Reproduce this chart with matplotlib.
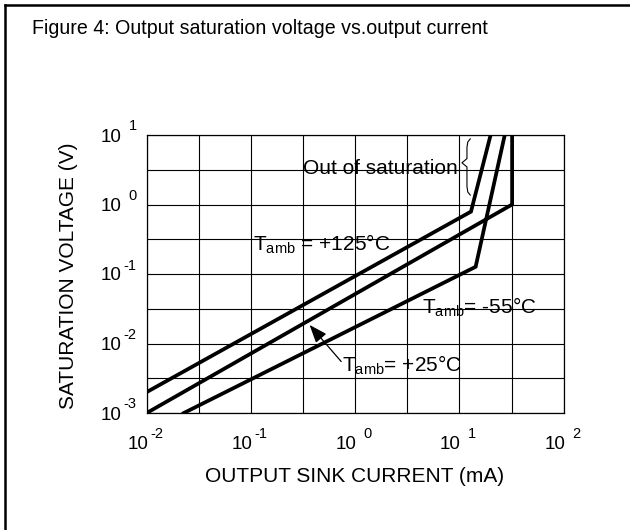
import numpy as np
import matplotlib
matplotlib.use("Agg")
import matplotlib.pyplot as plt
from matplotlib.lines import Line2D
from matplotlib.ticker import FixedLocator, NullFormatter
from matplotlib.transforms import blended_transform_factory, offset_copy

plt.rcParams['font.family'] = ['Liberation Sans', 'DejaVu Sans']
plt.rcParams['mathtext.fontset'] = 'custom'
plt.rcParams['mathtext.rm'] = 'Liberation Sans'
plt.rcParams['mathtext.it'] = 'Liberation Sans:italic'
plt.rcParams['mathtext.bf'] = 'Liberation Sans:bold'

# curves (sink current mA, saturation voltage V)
i_125 = [0.01, 12.9, 19.9]
v_125 = [0.002, 0.79, 10.0]
i_25 = [0.01, 32.0, 32.0]
v_25 = [0.001, 1.0, 10.0]
i_m55 = [0.0227, 14.3, 27.2]
v_m55 = [0.001, 0.127, 10.0]

x_decades = [-2, -1, 0, 1, 2]
y_decades = [-3, -2, -1, 0, 1]

fig = plt.figure(figsize=(6.3, 5.3), dpi=100)
ax = fig.add_axes([146.7 / 630, 1 - 413 / 530, 417 / 630, 278 / 530])

for xs, ys in [(i_125, v_125), (i_25, v_25), (i_m55, v_m55)]:
    ax.plot(xs, ys, color='black', lw=2.7, solid_joinstyle='miter', zorder=3)

ax.set_xscale('log')
ax.set_yscale('log')
ax.set_xlim(1e-2, 1e2)
ax.set_ylim(1e-3, 1e1)

# grid every half decade, labels only on decades (drawn by hand below)
ax.xaxis.set_major_locator(FixedLocator([10.0 ** k for k in x_decades]))
ax.yaxis.set_major_locator(FixedLocator([10.0 ** k for k in y_decades]))
ax.xaxis.set_minor_locator(FixedLocator([10.0 ** (k + 0.5) for k in x_decades[:-1]]))
ax.yaxis.set_minor_locator(FixedLocator([10.0 ** (k + 0.5) for k in y_decades[:-1]]))
for a in (ax.xaxis, ax.yaxis):
    a.set_major_formatter(NullFormatter())
    a.set_minor_formatter(NullFormatter())
ax.tick_params(which='both', length=0)

ax.grid(which='both', color='black', lw=0.8)
for s in ax.spines.values():
    s.set_linewidth(0.9)

# "10" with a spaced superscript, like the datasheet
base_fs = 13.5
sup_fs = 10.5
xt = blended_transform_factory(ax.transData, ax.transAxes)
for k in x_decades:
    ax.text(10.0 ** k, 0, '10', fontsize=base_fs, ha='right', va='baseline',
            transform=offset_copy(xt, fig, x=1.5, y=-36, units='dots'))
    gap = 2 if k < 0 else 7
    ax.text(10.0 ** k, 0, str(k), fontsize=sup_fs, ha='left', va='baseline',
            transform=offset_copy(xt, fig, x=1.5 + gap, y=-25, units='dots'))

yt = blended_transform_factory(ax.transAxes, ax.transData)
for k in y_decades:
    ax.text(0, 10.0 ** k, '10', fontsize=base_fs, ha='left', va='baseline',
            transform=offset_copy(yt, fig, x=-46, y=-6.5, units='dots'))
    gap = 1.5 if k < 0 else 7
    ax.text(0, 10.0 ** k, str(k), fontsize=sup_fs, ha='left', va='baseline',
            transform=offset_copy(yt, fig, x=-46 + 21 + gap, y=4.5, units='dots'))

# annotations
fs = 15
ax.text(0.105, 0.27, r'T$_{\mathregular{amb}}$ = +125°C', fontsize=fs,
        ha='left', va='center', zorder=4)
ax.text(4.4, 0.0335, r'T$_{\mathregular{amb}}$= -55°C', fontsize=fs,
        ha='left', va='center', zorder=4)
ax.text(0.75, 0.0049, r'T$_{\mathregular{amb}}$= +25°C', fontsize=fs,
        ha='left', va='center', zorder=4)
ax.text(0.318, 3.35, 'Out of saturation', fontsize=fs,
        ha='left', va='center', zorder=4)
ax.annotate('', xy=(0.365, 0.0185), xytext=(0.734, 0.0055),
            arrowprops=dict(arrowstyle='-|>,head_length=1.1,head_width=0.42',
                            color='black', lw=0.9, shrinkA=0, shrinkB=0))

# brace next to "Out of saturation"
bx = 0.768
brace_x = [bx + 0.008, bx + 0.002, bx, bx, bx - 0.012, bx, bx, bx + 0.002, bx + 0.008]
brace_y = [0.986, 0.975, 0.955, 0.915, 0.900, 0.885, 0.815, 0.795, 0.784]
ax.plot(brace_x, brace_y, color='black', lw=0.8, transform=ax.transAxes,
        clip_on=False, zorder=4)

fig.text(355 / 630, 1 - 477 / 530, 'OUTPUT SINK CURRENT (mA)', fontsize=15,
         ha='center', va='center')
fig.text(68.5 / 630, 1 - 276 / 530, 'SATURATION VOLTAGE (V)', fontsize=15,
         rotation=90, ha='center', va='center')

fig.text(32 / 630, 1 - 28 / 530,
         'Figure 4: Output saturation voltage vs.output current',
         fontsize=14.1, ha='left', va='center')

# outer frame (only left and top edges fall inside the picture)
fig.add_artist(Line2D([4.5 / 630, 4.5 / 630], [0, 1 - 5 / 530], color='black', lw=1.8))
fig.add_artist(Line2D([4.5 / 630, 1], [1 - 5 / 530, 1 - 5 / 530], color='black', lw=1.8))

fig.savefig('out.png', dpi=100)
